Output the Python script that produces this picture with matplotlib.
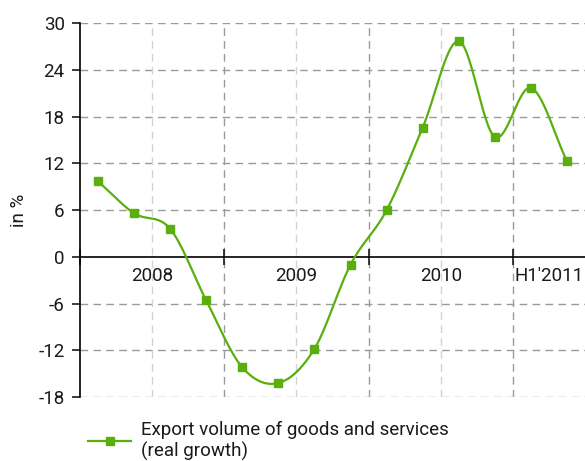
import numpy as np
import matplotlib
matplotlib.use("Agg")
import matplotlib.pyplot as plt

# Quarterly export volume growth, in %
quarters = ["Q1'08", "Q2'08", "Q3'08", "Q4'08",
            "Q1'09", "Q2'09", "Q3'09", "Q4'09",
            "Q1'10", "Q2'10", "Q3'10", "Q4'10",
            "Q1'11", "Q2'11"]
growth = [9.7, 5.6, 3.6, -5.6,
          -14.2, -16.2, -11.8, -1.0,
          6.0, 16.6, 27.7, 15.4,
          21.7, 12.3]

period_labels = ["2008", "2009", "2010", "H1'2011"]
period_lengths = [4, 4, 4, 2]
y_ticks = [-18, -12, -6, 0, 6, 12, 18, 24, 30]
series_label = "Export volume of goods and services\n(real growth)"

GREEN = "#5aae0e"
TEXT = "#1a1a1a"
FS = 13.5
plt.rcParams["font.family"] = ["Roboto", "DejaVu Sans"]


def catmull_rom(x, y, n=30):
    """Smooth curve through all points (uniform Catmull-Rom)."""
    x = np.asarray(x, float)
    y = np.asarray(y, float)
    px = np.concatenate([[2 * x[0] - x[1]], x, [2 * x[-1] - x[-2]]])
    py = np.concatenate([[2 * y[0] - y[1]], y, [2 * y[-1] - y[-2]]])
    xs, ys = [], []
    t = np.linspace(0, 1, n, endpoint=False)
    for i in range(1, len(px) - 2):
        for p, out in ((px, xs), (py, ys)):
            p0, p1, p2, p3 = p[i - 1], p[i], p[i + 1], p[i + 2]
            out.append(0.5 * ((2 * p1) + (-p0 + p2) * t
                              + (2 * p0 - 5 * p1 + 4 * p2 - p3) * t ** 2
                              + (-p0 + 3 * p1 - 3 * p2 + p3) * t ** 3))
    xs = np.concatenate(xs + [[x[-1]]])
    ys = np.concatenate(ys + [[y[-1]]])
    return xs, ys


W, H = 585, 461
fig = plt.figure(figsize=(W / 100, H / 100), dpi=100)
ax = fig.add_axes([80 / W, 1 - 397 / H, 1 - 80 / W, (397 - 23.3) / H])

n = len(quarters)
xpos = np.arange(n) + 0.5
ax.set_xlim(0, n)
ax.set_ylim(y_ticks[0], y_ticks[-1])

# grid
dash = (0, (5.5, 3.8))
for yv in y_ticks:
    if yv != 0:
        ax.axhline(yv, color="#9a9a9a", lw=1.0, ls=dash, zorder=1)
bounds = np.cumsum([0] + period_lengths)
for b in bounds[1:-1]:
    ax.axvline(b, color="#9a9a9a", lw=1.0, ls=dash, zorder=1)
for s, e in zip(bounds[:-1], bounds[1:]):
    if e - s == 4:
        ax.axvline((s + e) / 2, color="#d2d2d2", lw=1.0, ls=dash, zorder=1)

# series
sx, sy = catmull_rom(xpos, growth)
ax.plot(sx, sy, color=GREEN, lw=1.6, zorder=3)
ax.plot(xpos, growth, ls="none", marker="s", ms=5.2, color=GREEN, zorder=4)
legend_handle = plt.Line2D([], [], color=GREEN, lw=1.6, marker="s", ms=5.2)

# axes
for side in ("top", "right"):
    ax.spines[side].set_visible(False)
ax.spines["left"].set_linewidth(1.2)
ax.spines["bottom"].set_position(("data", 0))
ax.spines["bottom"].set_linewidth(1.2)

ax.set_yticks(y_ticks)
ax.set_yticklabels([str(v) for v in y_ticks])
ax.tick_params(axis="y", direction="out", length=6, width=1.2, pad=5,
               labelsize=FS, colors=TEXT)

ax.set_xticks(bounds[:-1])
ax.set_xticklabels([])
ax.tick_params(axis="x", which="major", direction="inout", length=11,
               width=1.2, colors=TEXT)
centers = [(s + e) / 2 for s, e in zip(bounds[:-1], bounds[1:])]
ax.set_xticks(centers, minor=True)
ax.set_xticklabels(period_labels, minor=True)
ax.tick_params(axis="x", which="minor", length=0, pad=7, labelsize=FS,
               labelcolor=TEXT)

ax.set_ylabel("in %", fontsize=FS, color=TEXT)
ax.yaxis.set_label_coords(-52 / 505, 0.5)

fig.legend([legend_handle], [series_label], loc="center left",
           bbox_to_anchor=(88 / W, 1 - 441 / H), frameon=False,
           borderpad=0, borderaxespad=0, handlelength=2.3,
           handletextpad=0.55, fontsize=FS, labelcolor=TEXT,
           labelspacing=0.1)

fig.savefig("out.png", dpi=100)
